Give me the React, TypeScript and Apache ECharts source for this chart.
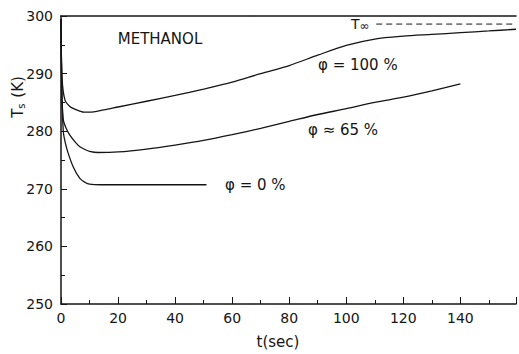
import React, { useEffect, useRef } from "react";
import * as echarts from "echarts";

const t100 = [0, 0.4, 1.4, 3.1, 5, 6.6, 8, 10, 15, 20, 30, 40, 50, 60, 70, 80, 90, 100, 110, 120, 130, 140, 150, 159.5];
const v100 = [299.5, 289, 285.4, 284.3, 283.8, 283.5, 283.3, 283.3, 283.7, 284.2, 285.2, 286.2, 287.3, 288.5, 290.0, 291.4, 293.2, 294.9, 296.0, 296.5, 296.8, 297.1, 297.4, 297.7];

const t65 = [0, 0.3, 0.8, 1.8, 3.1, 5, 6.6, 8.5, 10, 13, 20, 30, 40, 50, 60, 70, 80, 90, 100, 110, 120, 130, 140];
const v65 = [299.5, 287, 282, 280.5, 279.3, 278.1, 277.3, 276.8, 276.5, 276.3, 276.4, 276.9, 277.6, 278.4, 279.4, 280.5, 281.7, 282.9, 283.9, 285.0, 285.9, 287.0, 288.2];

const t0 = [0, 0.3, 0.8, 1.5, 2.5, 4.3, 6.6, 8.5, 10, 14, 20, 30, 40, 51];
const v0 = [299.5, 287, 280, 278, 276.2, 273.8, 271.8, 271.1, 270.8, 270.7, 270.7, 270.7, 270.7, 270.7];

const tInf = [110.5, 159.5];
const vInf = [298.6, 298.6];

const xTicks = [0, 20, 40, 60, 80, 100, 120, 140];

const zip = (a: number[], b: number[]) => a.map((x, i) => [x, b[i]]);

const FONT = "DejaVu Sans";
const INK = "#151515";

export default function App() {
  const ref = useRef<HTMLDivElement>(null);
  useEffect(() => {
    if (!ref.current) return;
    const chart = echarts.init(ref.current, null, { renderer: "svg" });
    const curve = (data: number[][]) => ({
      type: "line",
      data,
      showSymbol: false,
      smooth: 0.3,
      lineStyle: { color: INK, width: 1.3 },
      xAxisIndex: 0,
      yAxisIndex: 0,
    });
    chart.setOption({
      animation: false,
      backgroundColor: "#ffffff",
      grid: { left: 61, right: 0, top: 16, bottom: 50 },
      xAxis: [
        {
          type: "value",
          min: 0,
          max: 159.5,
          interval: 20,
          axisLine: { show: true, lineStyle: { color: INK, width: 1.5 } },
          axisTick: { show: true, inside: true, length: 7, lineStyle: { color: INK, width: 1 } },
          minorTick: { show: true, splitNumber: 2, length: 4, lineStyle: { color: INK, width: 1 } },
          splitLine: { show: false },
          axisLabel: {
            color: INK,
            fontFamily: FONT,
            fontSize: 14,
            margin: 7,
            formatter: (v: number) => (xTicks.includes(v) ? String(v) : ""),
          },
        },
        {
          type: "value",
          position: "top",
          min: 0,
          max: 159.5,
          axisLine: { show: true, lineStyle: { color: INK, width: 1.5 } },
          axisTick: { show: false },
          axisLabel: { show: false },
          splitLine: { show: false },
        },
      ],
      yAxis: {
        type: "value",
        min: 250,
        max: 300,
        interval: 10,
        axisLine: { show: true, lineStyle: { color: INK, width: 1.5 } },
        axisTick: { show: true, inside: true, length: 6, lineStyle: { color: INK, width: 1 } },
        minorTick: { show: true, splitNumber: 2, length: 4, lineStyle: { color: INK, width: 1 } },
        splitLine: { show: false },
        axisLabel: { color: INK, fontFamily: FONT, fontSize: 14, margin: 8 },
      },
      series: [
        curve(zip(t100, v100)),
        curve(zip(t65, v65)),
        curve(zip(t0, v0)),
        {
          type: "line",
          data: zip(tInf, vInf),
          showSymbol: false,
          lineStyle: { color: INK, width: 1, type: [6, 4] },
        },
      ],
      graphic: [
        {
          type: "text",
          x: 160,
          y: 39,
          style: { text: "METHANOL", fill: INK, font: `15px "${FONT}"`, align: "center", verticalAlign: "middle" },
        },
        {
          type: "text",
          x: 351,
          y: 24,
          style: {
            text: "{a|T}{b|∞}",
            align: "left",
            verticalAlign: "middle",
            rich: {
              a: { fill: INK, fontFamily: FONT, fontSize: 14 },
              b: { fill: INK, fontFamily: FONT, fontSize: 12, padding: [3, 0, 0, 0] },
            },
          },
        },
        {
          type: "text",
          x: 318,
          y: 65,
          style: { text: "φ = 100 %", fill: INK, font: `15px "${FONT}"`, align: "left", verticalAlign: "middle" },
        },
        {
          type: "text",
          x: 308,
          y: 130,
          style: { text: "φ ≈ 65 %", fill: INK, font: `15px "${FONT}"`, align: "left", verticalAlign: "middle" },
        },
        {
          type: "text",
          x: 225,
          y: 185,
          style: { text: "φ = 0 %", fill: INK, font: `15px "${FONT}"`, align: "left", verticalAlign: "middle" },
        },
        {
          type: "text",
          x: 278,
          y: 342,
          style: { text: "t(sec)", fill: INK, font: `15px "${FONT}"`, align: "center", verticalAlign: "middle" },
        },
        {
          type: "text",
          x: 18,
          y: 97,
          rotation: Math.PI / 2,
          style: {
            text: "{a|T}{b|s}{a| (K)}",
            align: "center",
            verticalAlign: "middle",
            rich: {
              a: { fill: INK, fontFamily: FONT, fontSize: 15 },
              b: { fill: INK, fontFamily: FONT, fontSize: 10, padding: [6, 1, 0, 0] },
            },
          },
        },
      ],
    });
    return () => chart.dispose();
  }, []);
  return (
    <div
      ref={ref}
      style={{ position: "absolute", left: 0, top: 0, width: 519, height: 354 }}
    />
  );
}
